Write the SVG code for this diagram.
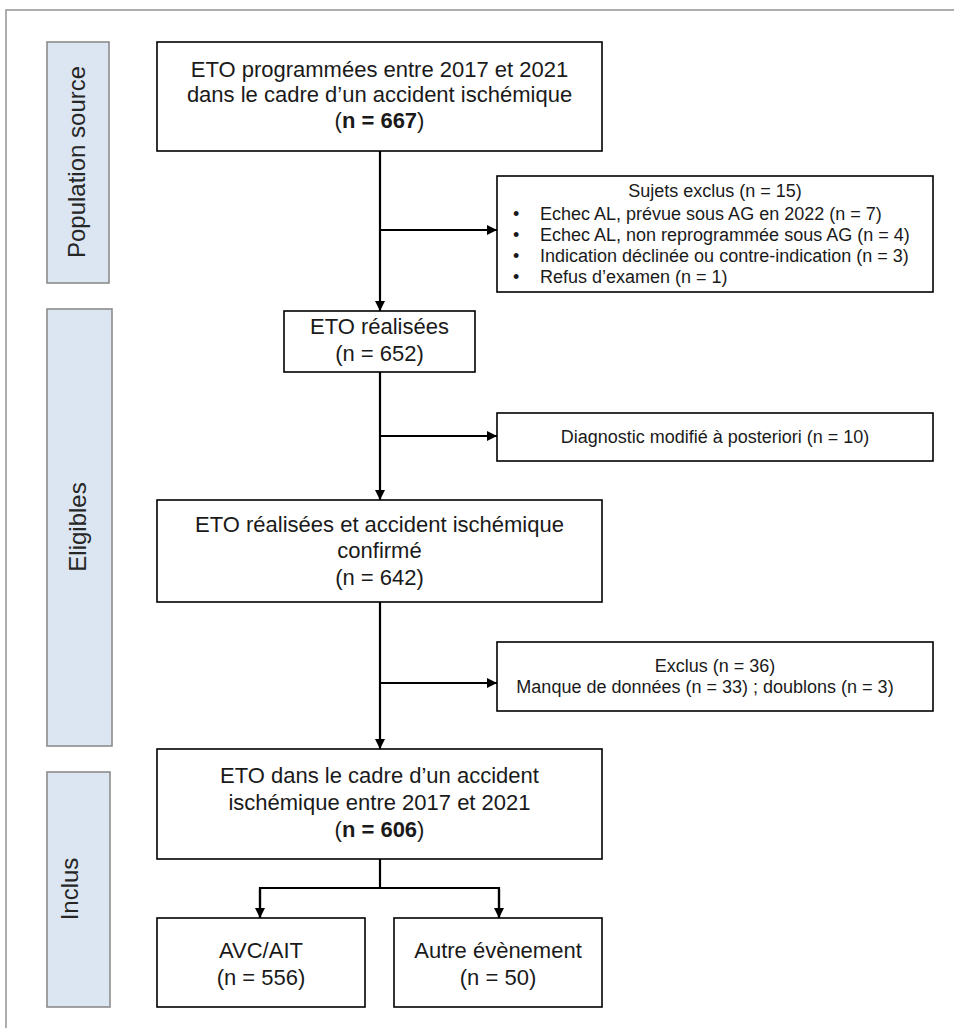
<svg xmlns="http://www.w3.org/2000/svg" width="954" height="1028" viewBox="0 0 954 1028">
<defs>
<style>
text{font-family:"Liberation Sans",Arial,sans-serif;fill:#1a1a1a}
.m{font-size:22px;text-anchor:middle}
.r{font-size:18px}
.rc{font-size:18px;text-anchor:middle}
.s{font-size:24px;text-anchor:middle;fill:#262626}
.b{font-weight:bold}
.box{fill:#fff;stroke:#000;stroke-width:1.6}
.side{fill:#dce6f2;stroke:#8c8c8c;stroke-width:1.6}
.c{fill:none;stroke:#000;stroke-width:2.2}
</style>
<marker id="ah" markerUnits="userSpaceOnUse" markerWidth="10" markerHeight="10" refX="10" refY="5" orient="auto">
<path d="M0,0 L10,5 L0,10 z" fill="#000"/>
</marker>
</defs>
<rect x="0" y="0" width="954" height="1028" fill="#fff"/>
<rect x="6" y="10" width="1000" height="1100" fill="none" stroke="#9a9a9a" stroke-width="1.6"/>

<g id="side-population">
<rect class="side" x="47" y="42" width="62" height="241"/>
<text class="s" transform="translate(85,162) rotate(-90)">Population source</text>
</g>
<g id="side-eligibles">
<rect class="side" x="47" y="309" width="65" height="437"/>
<text class="s" transform="translate(86,527) rotate(-90)">Eligibles</text>
</g>
<g id="side-inclus">
<rect class="side" x="47" y="772" width="63" height="235"/>
<text class="s" transform="translate(78,889) rotate(-90)">Inclus</text>
</g>

<g id="connectors">
<line class="c" x1="380" y1="151" x2="380" y2="311" marker-end="url(#ah)"/>
<line class="c" x1="380" y1="230" x2="497" y2="230" marker-end="url(#ah)"/>
<line class="c" x1="380" y1="372" x2="380" y2="500" marker-end="url(#ah)"/>
<line class="c" x1="380" y1="436" x2="497" y2="436" marker-end="url(#ah)"/>
<line class="c" x1="380" y1="602" x2="380" y2="749" marker-end="url(#ah)"/>
<line class="c" x1="380" y1="683" x2="497" y2="683" marker-end="url(#ah)"/>
<line class="c" x1="380" y1="859" x2="380" y2="888"/>
<polyline class="c" points="260,918 260,888 499,888 499,918"/>
<line class="c" x1="260" y1="889" x2="260" y2="918" marker-end="url(#ah)"/>
<line class="c" x1="499" y1="889" x2="499" y2="918" marker-end="url(#ah)"/>
</g>

<g id="n-667">
<rect class="box" x="157" y="42" width="445" height="109"/>
<text class="m" x="379.5" y="77">ETO programmées entre 2017 et 2021</text>
<text class="m" x="379.5" y="102">dans le cadre d’un accident ischémique</text>
<text class="m" x="379.5" y="128">(<tspan class="b">n = 667</tspan>)</text>
</g>

<g id="excl-15">
<rect class="box" x="497" y="176" width="436" height="116"/>
<text class="rc" x="715" y="197">Sujets exclus (n = 15)</text>
<text class="r" x="513" y="220">•</text><text class="r" x="540" y="220">Echec AL, prévue sous AG en 2022 (n = 7)</text>
<text class="r" x="513" y="241">•</text><text class="r" x="540" y="241">Echec AL, non reprogrammée sous AG (n = 4)</text>
<text class="r" x="513" y="262">•</text><text class="r" x="540" y="262">Indication déclinée ou contre-indication (n = 3)</text>
<text class="r" x="513" y="283">•</text><text class="r" x="540" y="283">Refus d’examen (n = 1)</text>
</g>

<g id="n-652">
<rect class="box" x="284" y="311" width="191" height="61"/>
<text class="m" x="379.5" y="334">ETO réalisées</text>
<text class="m" x="379.5" y="361">(n = 652)</text>
</g>

<g id="excl-10">
<rect class="box" x="497" y="413" width="436" height="48"/>
<text class="rc" x="715" y="443">Diagnostic modifié à posteriori (n = 10)</text>
</g>

<g id="n-642">
<rect class="box" x="157" y="500" width="445" height="102"/>
<text class="m" x="379.5" y="532">ETO réalisées et accident ischémique</text>
<text class="m" x="379.5" y="558">confirmé</text>
<text class="m" x="379.5" y="585">(n = 642)</text>
</g>

<g id="excl-36">
<rect class="box" x="497" y="642" width="436" height="69"/>
<text class="rc" x="715" y="672">Exclus (n = 36)</text>
<text class="rc" x="705" y="693">Manque de données (n = 33) ; doublons (n = 3)</text>
</g>

<g id="n-606">
<rect class="box" x="157" y="749" width="445" height="110"/>
<text class="m" x="379.5" y="783">ETO dans le cadre d’un accident</text>
<text class="m" x="379.5" y="810">ischémique entre 2017 et 2021</text>
<text class="m" x="379.5" y="837">(<tspan class="b">n = 606</tspan>)</text>
</g>

<g id="avc-ait">
<rect class="box" x="157" y="918" width="208" height="89"/>
<text class="m" x="261" y="958">AVC/AIT</text>
<text class="m" x="261" y="985">(n = 556)</text>
</g>

<g id="autre">
<rect class="box" x="394" y="918" width="208" height="89"/>
<text class="m" x="498" y="958">Autre évènement</text>
<text class="m" x="498" y="985">(n = 50)</text>
</g>
</svg>
